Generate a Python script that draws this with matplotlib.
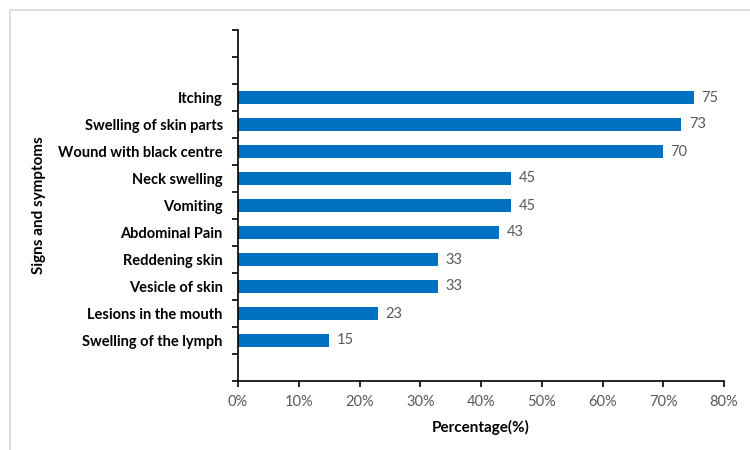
import matplotlib
matplotlib.use("Agg")
import matplotlib.pyplot as plt
from matplotlib.patches import Rectangle

plt.rcParams['font.family'] = ['Lato', 'DejaVu Sans']

# data, top to bottom as shown in the chart
symptoms = ['Itching', 'Swelling of skin parts', 'Wound with black centre',
            'Neck swelling', 'Vomiting', 'Abdominal Pain', 'Reddening skin',
            'Vesicle of skin', 'Lesions in the mouth', 'Swelling of the lymph']
percent = [75, 73, 70, 45, 45, 43, 33, 33, 23, 15]
xticks = [0, 10, 20, 30, 40, 50, 60, 70, 80]

fig = plt.figure(figsize=(7.5, 4.5), dpi=100)
ax = fig.add_axes([238/750, 1 - 381/450, 486/750, 351/450])

# two empty slots on top, one at the bottom (13 slots in total)
n = len(symptoms)
ypos = [n - i for i in range(n)]  # 10 .. 1
ax.barh(ypos, percent, height=0.45, color='#0070C0')

for y, v in zip(ypos, percent):
    ax.text(v + 1.2, y, str(v), va='center', ha='left', fontsize=10.5, color='#595959')

ax.set_ylim(-0.5, 12.5)
ax.set_yticks([y + 0.5 for y in range(-1, 13)])
ax.set_yticklabels([])
ax.set_yticks(ypos, minor=True)
ax.set_yticklabels(symptoms, minor=True, fontweight='bold', fontsize=10.5)
ax.tick_params(axis='y', which='minor', length=0, pad=11)
ax.tick_params(axis='y', which='major', length=4, width=1.2)

ax.set_xlim(0, 80)
ax.set_xticks(xticks)
ax.set_xticklabels([f'{t}%' for t in xticks], fontsize=10.5, color='#595959')
ax.tick_params(axis='x', length=4, width=1.2, pad=6)

for s in ['top', 'right']:
    ax.spines[s].set_visible(False)
for s in ['left', 'bottom']:
    ax.spines[s].set_linewidth(1.2)

ax.set_xlabel('Percentage(%)', fontweight='bold', fontsize=11, labelpad=8)
ax.set_ylabel('Signs and symptoms', fontweight='bold', fontsize=11)
ax.yaxis.set_label_coords(-0.395, 0.5)

# light frame around the chart area
fig.patches.append(Rectangle((10/750, -0.1), 1.0, 1 - 10/450 + 0.1,
                             transform=fig.transFigure, fill=False,
                             edgecolor='#D9D9D9', linewidth=1.2))

fig.savefig('out.png', dpi=100)
